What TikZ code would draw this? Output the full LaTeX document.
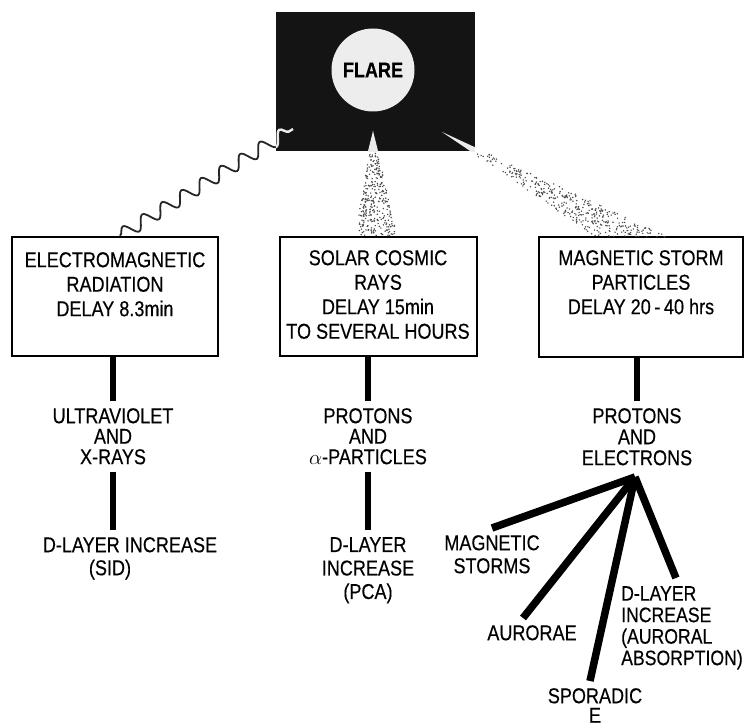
\documentclass[tikz,border=0pt]{standalone}
\usepackage{fontspec}
\setmainfont{Liberation Sans}[FakeStretch=0.84, FakeBold=0.35]
\usetikzlibrary{decorations.pathmorphing}
\begin{document}
\begin{tikzpicture}[x=1pt,y=-1pt,
  lbl/.style={align=center, inner sep=7pt, anchor=north},
  boxtxt/.style={align=center, inner sep=0pt, anchor=north, font=\fontsize{21.5}{24.5}\selectfont},
  framebox/.style={draw, line width=2.6pt, inner sep=0pt},
  stem/.style={line width=6.5pt},
  fan/.style={line width=7.5pt},
  wave/.style={decorate, decoration={snake, amplitude=6.5pt, segment length=23pt}},
  dotc/.style={fill=black!72}
]
\useasboundingbox (0,0) rectangle (745,727);

% flare
\node[fill=black!92, minimum width=199pt, minimum height=139pt, inner sep=0pt] (flarebox) at (375.5,81.5) {};
\node[circle, fill=black!7, minimum size=83pt, inner sep=0pt, font=\fontsize{21.5}{22}\selectfont\bfseries] (flare) at (373,70) {FLARE};

% boxes
\node[framebox, minimum width=206pt, minimum height=119pt] (b1) at (115,296.5) {};
\node[framebox, minimum width=197pt, minimum height=119pt] (b2) at (378.5,296.5) {};
\node[framebox, minimum width=204pt, minimum height=120pt] (b3) at (641,297) {};

\node[boxtxt] (t1) at (115,252) {ELECTROMAGNETIC\\RADIATION\\DELAY 8.3min};
\node[boxtxt] (t2) at (378,250) {SOLAR COSMIC\\RAYS\\DELAY 15min\\TO SEVERAL HOURS};
\node[boxtxt] (t3) at (641,250) {MAGNETIC STORM\\PARTICLES\\DELAY 20\,-\,40 hrs};

% spray cones (dots)
\pgfmathsetseed{7}
\foreach \i in {1,...,320}{
  \pgfmathsetmacro\rt{sqrt(rnd)}
  \pgfmathsetmacro\rs{rnd-0.5}
  \fill[dotc] ({373+\rt*3+\rs*\rt*42},{131+\rt*105}) circle (0.8pt);
}
\foreach \i in {1,...,380}{
  \pgfmathsetmacro\rt{sqrt(rnd)}
  \pgfmathsetmacro\rs{rnd-0.5}
  \fill[dotc] ({442+\rt*190+\rs*\rt*72},{132+\rt*105}) circle (0.8pt);
}
\begin{scope}
  \clip (flarebox.south west) rectangle (flarebox.north east);
  \fill[black!8] (373,131) -- (367,155) -- (379,155) -- cycle;
  \fill[black!8] (442,132) -- (488,163) -- (509,163) -- cycle;
\end{scope}

% wave
\coordinate (wend) at (293,129);
\draw[line width=1.8pt, black!85, wave] ([xshift=5pt]b1.north) -- (wend);
\begin{scope}
  \clip (flarebox.south west) rectangle (flarebox.north east);
  \draw[black!8, line width=2.4pt, wave] ([xshift=5pt]b1.north) -- (wend);
\end{scope}

% left column
\node[lbl, font=\fontsize{21.5}{20.5}\selectfont] (u1) at (113,401) {ULTRAVIOLET\\AND\\X-RAYS};
\node[lbl, font=\fontsize{21.5}{23}\selectfont] (d1) at (130,530) {D-LAYER INCREASE\\\hspace*{-40pt}(SID)};
\draw[stem] (u1.north |- b1.south) -- (u1.north);
\draw[stem] (u1.south) -- (u1.south |- d1.north);

% middle column
\node[lbl, font=\fontsize{21.5}{20.5}\selectfont] (p2) at (368,401) {PROTONS\\AND\\$\alpha$-PARTICLES};
\node[lbl, font=\fontsize{21.5}{23.5}\selectfont] (d2) at (368,530) {D-LAYER\\INCREASE\\(PCA)};
\draw[stem] (p2.north |- b2.south) -- (p2.north);
\draw[stem] (p2.south) -- (d2.north);

% right column
\node[lbl, font=\fontsize{21.5}{21}\selectfont] (p3) at (637,401) {PROTONS\\AND\\ELECTRONS};
\draw[stem] (p3.north |- b3.south) -- (p3.north);
\coordinate (apex) at (635,477);

\node[lbl, font=\fontsize{21.5}{23}\selectfont] (ms) at (492,528) {MAGNETIC\\STORMS};
\node[lbl, font=\fontsize{21.5}{21}\selectfont] (au) at (532,618) {AURORAE};
\node[lbl, font=\fontsize{21.5}{19.5}\selectfont] (sp) at (595,681) {SPORADIC\\E};
\node[lbl, align=left, anchor=north west, font=\fontsize{21}{21.5}\selectfont] (dl) at (614,579) {D-LAYER\\INCREASE\\(AURORAL\\ABSORPTION)};

\draw[fan] (apex) -- (ms.north);
\draw[fan] (apex) -- ([xshift=-9pt]au.north);
\draw[fan] (apex) -- ([xshift=-5pt]sp.north);
\draw[fan] (apex) -- ([xshift=-6pt,yshift=1pt]dl.north);
\end{tikzpicture}
\end{document}
